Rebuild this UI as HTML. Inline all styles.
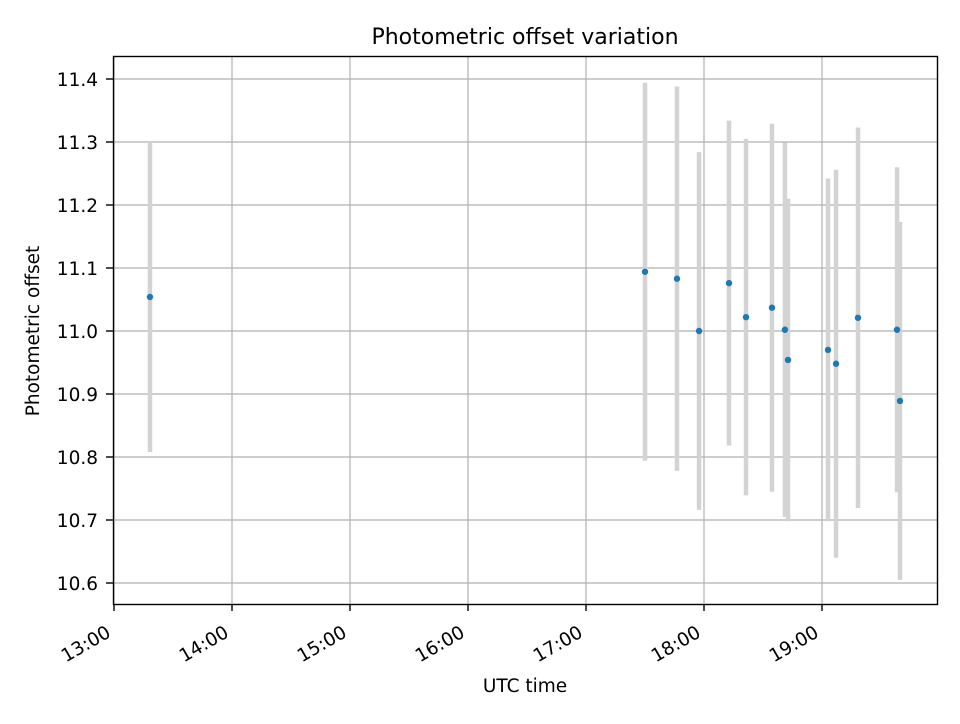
<!DOCTYPE html>
<html><head><meta charset="utf-8"><style>
body{margin:0;background:#fff;font-family:"DejaVu Sans","Liberation Sans",sans-serif}
svg text{font-family:"DejaVu Sans","Liberation Sans",sans-serif}
</style></head><body>
<svg id="chart" width="960" height="720" xmlns="http://www.w3.org/2000/svg">
<rect width="960" height="720" fill="#fff"/>
<g id="grid"></g>
<g id="bars"></g>
<g id="pts"></g>
<rect x="113.5" y="56.5" width="824" height="548" fill="none" stroke="#000" stroke-width="1.4"/>
<g id="ticks"></g>
<text x="525" y="44" text-anchor="middle" font-size="22">Photometric offset variation</text>
<text x="525" y="692" text-anchor="middle" font-size="18.5">UTC time</text>
<text transform="translate(39,331) rotate(-90)" text-anchor="middle" font-size="18.5">Photometric offset</text>
</svg>
<script>
const times=[13.305,17.5,17.771,17.958,18.212,18.356,18.576,18.686,18.712,19.051,19.119,19.305,19.636,19.661];
const offsets=[11.054,11.094,11.083,11.0,11.076,11.022,11.037,11.002,10.954,10.97,10.948,11.021,11.002,10.889];
const errors=[0.246,0.30,0.305,0.284,0.258,0.283,0.292,0.297,0.256,0.272,0.308,0.302,0.258,0.284];
const xTicks=[13,14,15,16,17,18,19];
const xTickLabels=["13:00","14:00","15:00","16:00","17:00","18:00","19:00"];
const yTicks=[10.6,10.7,10.8,10.9,11.0,11.1,11.2,11.3,11.4];
const yTickLabels=["10.6","10.7","10.8","10.9","11.0","11.1","11.2","11.3","11.4"];
const NS="http://www.w3.org/2000/svg";
const xs=h=>114+(h-13)*118;
const ys=v=>583-(v-10.6)*630;
function mk(tag,attrs,parent){const e=document.createElementNS(NS,tag);for(const k in attrs)e.setAttribute(k,attrs[k]);document.getElementById(parent).appendChild(e);return e;}
xTicks.forEach((t,i)=>{const x=xs(t);
 const g=mk('line',{x1:x,x2:x,y1:56,y2:604,stroke:'#b0b0b0','stroke-width':1.2},'grid');
 
 
 const tk=mk('line',{x1:x,x2:x,y1:604,y2:611,stroke:'#000','stroke-width':1.4},'ticks');
 
 
 const tx=mk('text',{x:x-2,y:636,'font-size':18.5,'text-anchor':'end',transform:`rotate(-30 ${x-2} 636)`},'ticks');
 tx.textContent=xTickLabels[i];
 
 
});
yTicks.forEach((t,i)=>{const y=ys(t);
 const g=mk('line',{x1:113,x2:938,y1:y,y2:y,stroke:'#b0b0b0','stroke-width':1.2},'grid');
 
 
 const tk=mk('line',{x1:106,x2:113,y1:y,y2:y,stroke:'#000','stroke-width':1.4},'ticks');
 
 
 const tx=mk('text',{x:98,y:y+7,'font-size':18.5,'text-anchor':'end'},'ticks');
 tx.textContent=yTickLabels[i];
 
 
});
times.forEach((t,i)=>{const x=xs(t);
 const b=mk('line',{x1:x,x2:x,y1:ys(offsets[i]+errors[i]),y2:ys(offsets[i]-errors[i]),stroke:'#d3d3d3','stroke-width':4.5},'bars');
 
 
});
times.forEach((t,i)=>{
 const c=mk('circle',{cx:xs(t),cy:ys(offsets[i]),r:3.2,fill:'#1f77b4'},'pts');
 
 
});
</script>
</body></html>
